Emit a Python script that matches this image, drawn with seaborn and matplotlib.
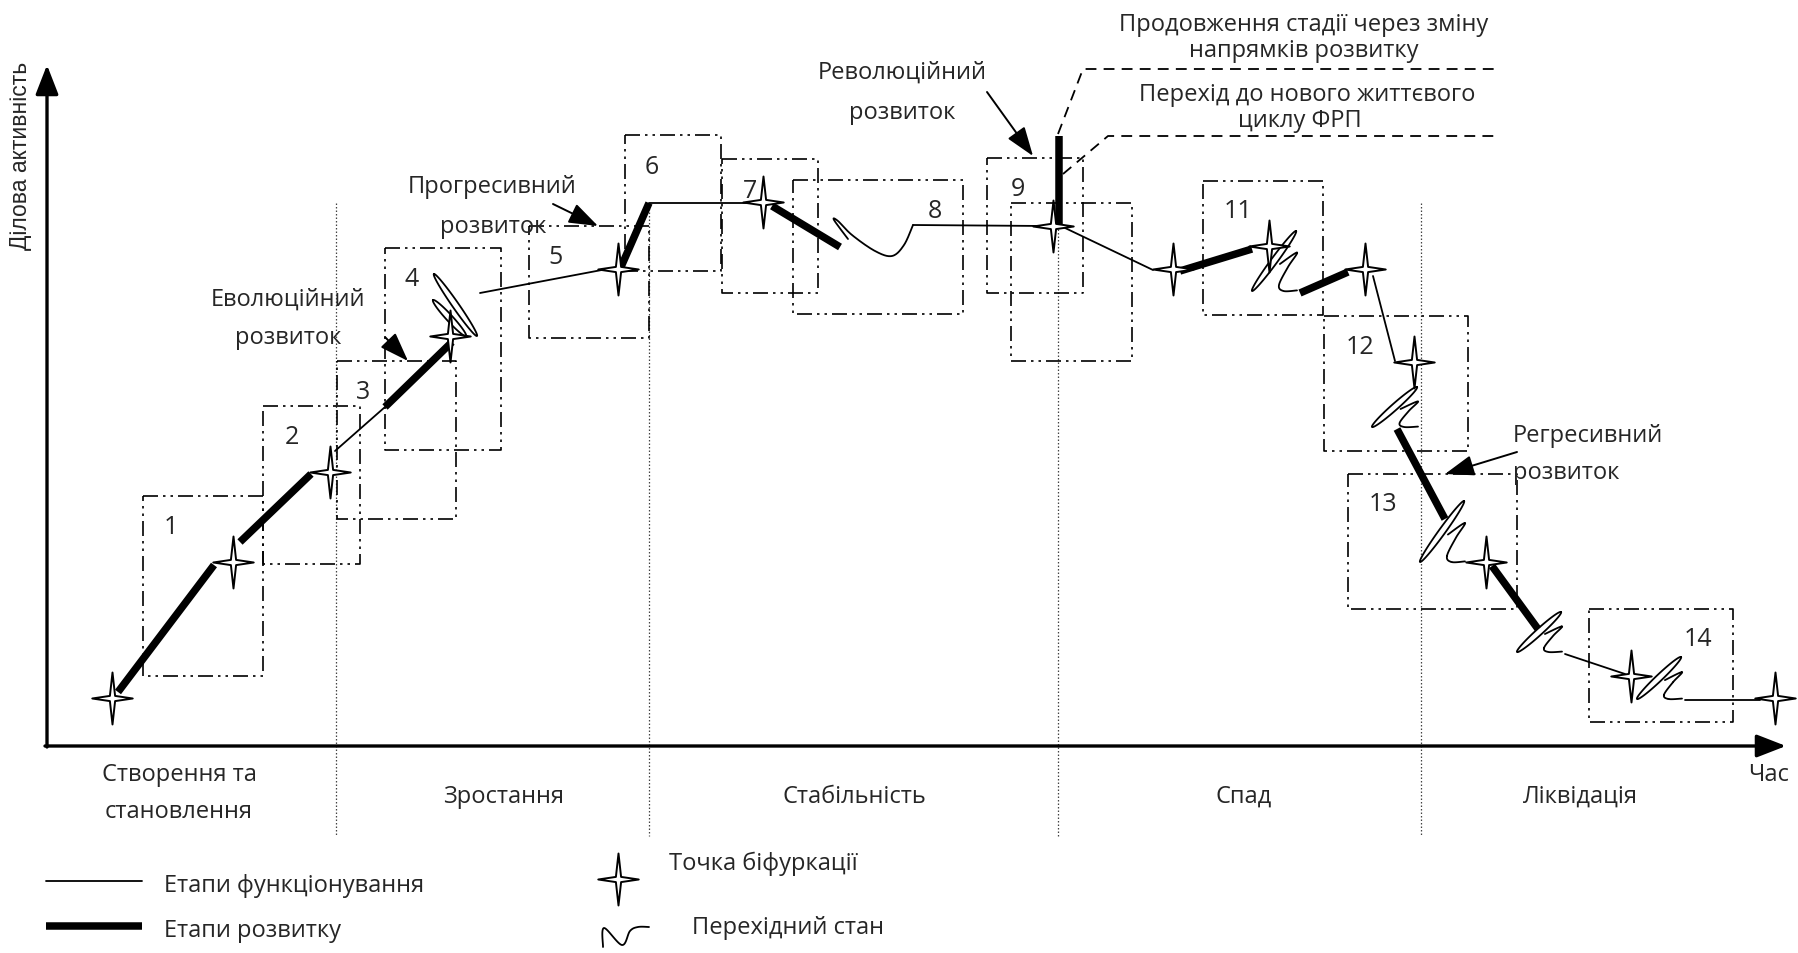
import numpy as np
import matplotlib
matplotlib.use("Agg")
import matplotlib.pyplot as plt
from matplotlib.path import Path
import seaborn as sns

sns.set_theme(style="white")
plt.rcParams['font.family'] = ['Open Sans', 'DejaVu Sans']

# ---------------- data (pixel-space diagram coordinates) ----------------
star_x = [112, 233, 330, 450, 618, 763, 1053, 1173, 1269, 1365, 1414, 1486, 1631, 1775]
star_y = [699, 563, 473, 337, 270, 203, 227, 270, 247, 270, 363, 563, 677, 699]

thick_segments = [
    [(118, 693), (214, 566)],
    [(240, 543), (311, 475)],
    [(385, 408), (452, 343)],
    [(621, 268), (649, 204)],
    [(772, 207), (840, 248)],
    [(1059, 137), (1059, 226)],
    [(1180, 272), (1252, 250)],
    [(1300, 294), (1348, 273)],
    [(1397, 430), (1445, 520)],
    [(1492, 567), (1538, 630)],
]
thin_segments = [
    [(335, 452), (385, 408)],
    [(480, 294), (607, 270)],
    [(649, 204), (750, 204)],
    [(913, 226), (1045, 227)],
    [(1063, 228), (1153, 271)],
    [(1373, 277), (1395, 362)],
    [(1565, 655), (1625, 675)],
    [(1685, 701), (1760, 701)],
]
# transition-state symbols: (left, top, right, bottom, mirrored)
transitions = [
    (433, 275, 477, 337, True),
    (1252, 232, 1297, 292, False),
    (1372, 388, 1418, 428, False),
    (1420, 502, 1465, 563, False),
    (1517, 613, 1562, 653, False),
    (1637, 658, 1682, 700, False),
]
wave8 = [(848, 240), (834, 221), (838, 222), (852, 236), (875, 252), (892, 257), (904, 246), (913, 226)]

boxes = [  # left, top, right, bottom
    (143, 497, 263, 677), (263, 407, 360, 565), (337, 362, 456, 520),
    (385, 249, 501, 451), (529, 227, 649, 339), (625, 136, 721, 272),
    (722, 160, 818, 294), (793, 181, 963, 315), (987, 159, 1083, 294),
    (1011, 204, 1132, 362), (1203, 182, 1323, 316), (1324, 317, 1468, 452),
    (1348, 475, 1517, 610), (1589, 610, 1733, 723),
]
box_labels = ['1', '2', '3', '4', '5', '6', '7', '8', '9', '11', '12', '13', '14']
box_label_x = [171, 292, 363, 412, 556, 652, 750, 935, 1018, 1238, 1360, 1383, 1698]
box_label_y = [528, 438, 393, 280, 258, 168, 191, 212, 189, 212, 348, 505, 640]

separators_x = [336, 649, 1058, 1421]
separators_top = [204, 206, 230, 204]

dashed_paths = [
    [(1058, 135), (1083, 70), (1496, 70)],
    [(1063, 175), (1108, 137), (1496, 137)],
]

arrows = [((385, 338), (408, 362)), ((553, 205), (598, 227)),
          ((987, 93), (1033, 157)), ((1517, 453), (1445, 475))]

notes = [  # text, x, y, ha
    ('Еволюційний', 288, 300, 'center'), ('розвиток', 288, 338, 'center'),
    ('Прогресивний', 492, 187, 'center'), ('розвиток', 493, 227, 'center'),
    ('Революційний', 902, 73, 'center'), ('розвиток', 902, 113, 'center'),
    ('Продовження стадії через зміну', 1304, 25, 'center'),
    ('напрямків розвитку', 1304, 51, 'center'),
    ('Перехід до нового життєвого', 1307, 95, 'center'),
    ('циклу ФРП', 1300, 121, 'center'),
    ('Регресивний', 1513, 436, 'left'), ('розвиток', 1513, 473, 'left'),
]
phase_labels = [('Створення та', 179, 775), ('становлення', 179, 812),
                ('Зростання', 504, 797), ('Стабільність', 854, 797),
                ('Спад', 1244, 797), ('Ліквідація', 1580, 797), ('Час', 1769, 775)]

# ---------------- helpers ----------------
def catmull(pts, n=24):
    pts = np.asarray(pts, float)
    P = np.vstack([pts[0], pts, pts[-1]])
    out = []
    for i in range(1, len(P) - 2):
        p0, p1, p2, p3 = P[i - 1], P[i], P[i + 1], P[i + 2]
        t = np.linspace(0, 1, n)[:, None]
        seg = 0.5 * ((2 * p1) + (-p0 + p2) * t + (2 * p0 - 5 * p1 + 4 * p2 - p3) * t ** 2
                     + (-p0 + 3 * p1 - 3 * p2 + p3) * t ** 3)
        out.append(seg)
    return np.vstack(out)

def narrow_loop(p, q, b=3.2, n=80):
    p = np.asarray(p, float); q = np.asarray(q, float)
    c = (p + q) / 2
    d = q - p
    a = np.hypot(*d) / 2
    u = d / (2 * a)
    nrm = np.array([-u[1], u[0]])
    t = np.linspace(0, 2 * np.pi, n)[:, None]
    return c + a * np.cos(t) * u + b * np.sin(t) * nrm

loop_ends = [(0.0, 1.0), (0.98, 0.0)]
stroke_tpl = [(0.62, 0.55), (1.0, 0.36), (0.8, 0.6), (0.6, 0.9), (0.7, 1.0), (1.0, 0.99)]

def transition(ax, l, t, r, b, mirror=False, lw=1.3):
    def tr(u, v):
        if mirror:
            u = 1 - u
        return (l + u * (r - l), t + v * (b - t))
    lp = narrow_loop(tr(*loop_ends[0]), tr(*loop_ends[1]))
    ax.plot(lp[:, 0], lp[:, 1], color='black', lw=lw, zorder=4)
    if mirror:
        lp2 = narrow_loop(tr(0.25, 1.0), tr(1.0, 0.42))
        ax.plot(lp2[:, 0], lp2[:, 1], color='black', lw=lw, zorder=4)
    else:
        c = catmull([tr(u, v) for u, v in stroke_tpl])
        ax.plot(c[:, 0], c[:, 1], color='black', lw=lw, solid_capstyle='round', zorder=4)

# ---------------- figure ----------------
fig = plt.figure(figsize=(17.98, 9.54), dpi=100)
ax = fig.add_axes([0, 0, 1, 1])

FS = 17
box_ls = (0, (9, 3, 1.5, 3, 1.5, 3))

# separators
for sx, st in zip(separators_x, separators_top):
    ax.plot([sx, sx], [st, 837], color='#444444', lw=0.9, ls=(0, (1.2, 1.6)), zorder=1)

# boxes
for (l, t, r, b) in boxes:
    ax.plot([l, r, r, l, l], [t, t, b, b, t], color='black', lw=1.2, ls=box_ls, zorder=2)

# dashed lines
for p in dashed_paths:
    p = np.array(p)
    ax.plot(p[:, 0], p[:, 1], color='black', lw=1.3, ls=(0, (6, 4)), zorder=2)

# thin and thick lines
for s in thin_segments:
    s = np.array(s)
    ax.plot(s[:, 0], s[:, 1], color='black', lw=1.3, zorder=3)
for s in thick_segments:
    s = np.array(s)
    ax.plot(s[:, 0], s[:, 1], color='black', lw=5.4, solid_capstyle='butt', zorder=3)

# transitions
for (l, t, r, b, m) in transitions:
    transition(ax, l, t, r, b, m)
w8 = catmull(wave8)
ax.plot(w8[:, 0], w8[:, 1], color='black', lw=1.3, zorder=4)

# stars
sv = [(0, 1), (0.1, 0.1), (0.78, 0), (0.1, -0.1), (0, -1), (-0.1, -0.1), (-0.78, 0), (-0.1, 0.1), (0, 1)]
star_path = Path(sv, [Path.MOVETO] + [Path.LINETO] * 7 + [Path.CLOSEPOLY])
sns.scatterplot(x=star_x, y=star_y, marker=star_path, s=1400, color='white',
                edgecolor='black', linewidth=1.4, zorder=6, ax=ax, legend=False)

# axes arrows
ax.annotate('', xy=(47, 66), xytext=(47, 748),
            arrowprops=dict(arrowstyle='-|>,head_length=0.9,head_width=0.35', lw=2.4, color='black',
                            shrinkA=0, shrinkB=0, mutation_scale=20), zorder=5)
ax.annotate('', xy=(1786, 747), xytext=(45, 747),
            arrowprops=dict(arrowstyle='-|>,head_length=0.9,head_width=0.35', lw=2.4, color='black',
                            shrinkA=0, shrinkB=0, mutation_scale=20), zorder=5)
ax.text(21, 156, 'Ділова активність', rotation=90, ha='center', va='center',
        fontsize=16.5, family=['Liberation Sans', 'DejaVu Sans'])

# annotation arrows
for (a, bpt) in arrows:
    ax.annotate('', xy=bpt, xytext=a,
                arrowprops=dict(arrowstyle='-|>,head_length=0.9,head_width=0.32', lw=1.4,
                                color='black', shrinkA=0, shrinkB=0, mutation_scale=20), zorder=5)

# texts
for (txt, x, y, ha) in notes:
    ax.text(x, y, txt, ha=ha, va='center', fontsize=FS, zorder=7)
for lab, x, y in zip(box_labels, box_label_x, box_label_y):
    ax.text(x, y, lab, ha='center', va='center', fontsize=FS + 1, zorder=7)
for (txt, x, y) in phase_labels:
    ax.text(x, y, txt, ha='center', va='center', fontsize=FS)

# legend
ax.plot([46, 142], [882, 882], color='black', lw=1.3)
ax.plot([46, 142], [927, 927], color='black', lw=5.4, solid_capstyle='butt')
ax.text(164, 886, 'Етапи функціонування', ha='left', va='center', fontsize=FS)
ax.text(164, 931, 'Етапи розвитку', ha='left', va='center', fontsize=FS)
sns.scatterplot(x=[618], y=[880], marker=star_path, s=1400, color='white',
                edgecolor='black', linewidth=1.4, zorder=6, ax=ax, legend=False)
ax.text(669, 864, 'Точка біфуркації', ha='left', va='center', fontsize=FS)
legend_wave = [(603, 948), (604, 929), (622, 946), (630, 932), (638, 928), (649, 928)]
lw_c = catmull(legend_wave)
ax.plot(lw_c[:, 0], lw_c[:, 1], color='black', lw=1.3)
ax.text(692, 928, 'Перехідний стан', ha='left', va='center', fontsize=FS)

ax.set_xlim(0, 1798)
ax.set_ylim(954, 0)
ax.axis('off')
fig.savefig('out.png', dpi=100, facecolor='white')
